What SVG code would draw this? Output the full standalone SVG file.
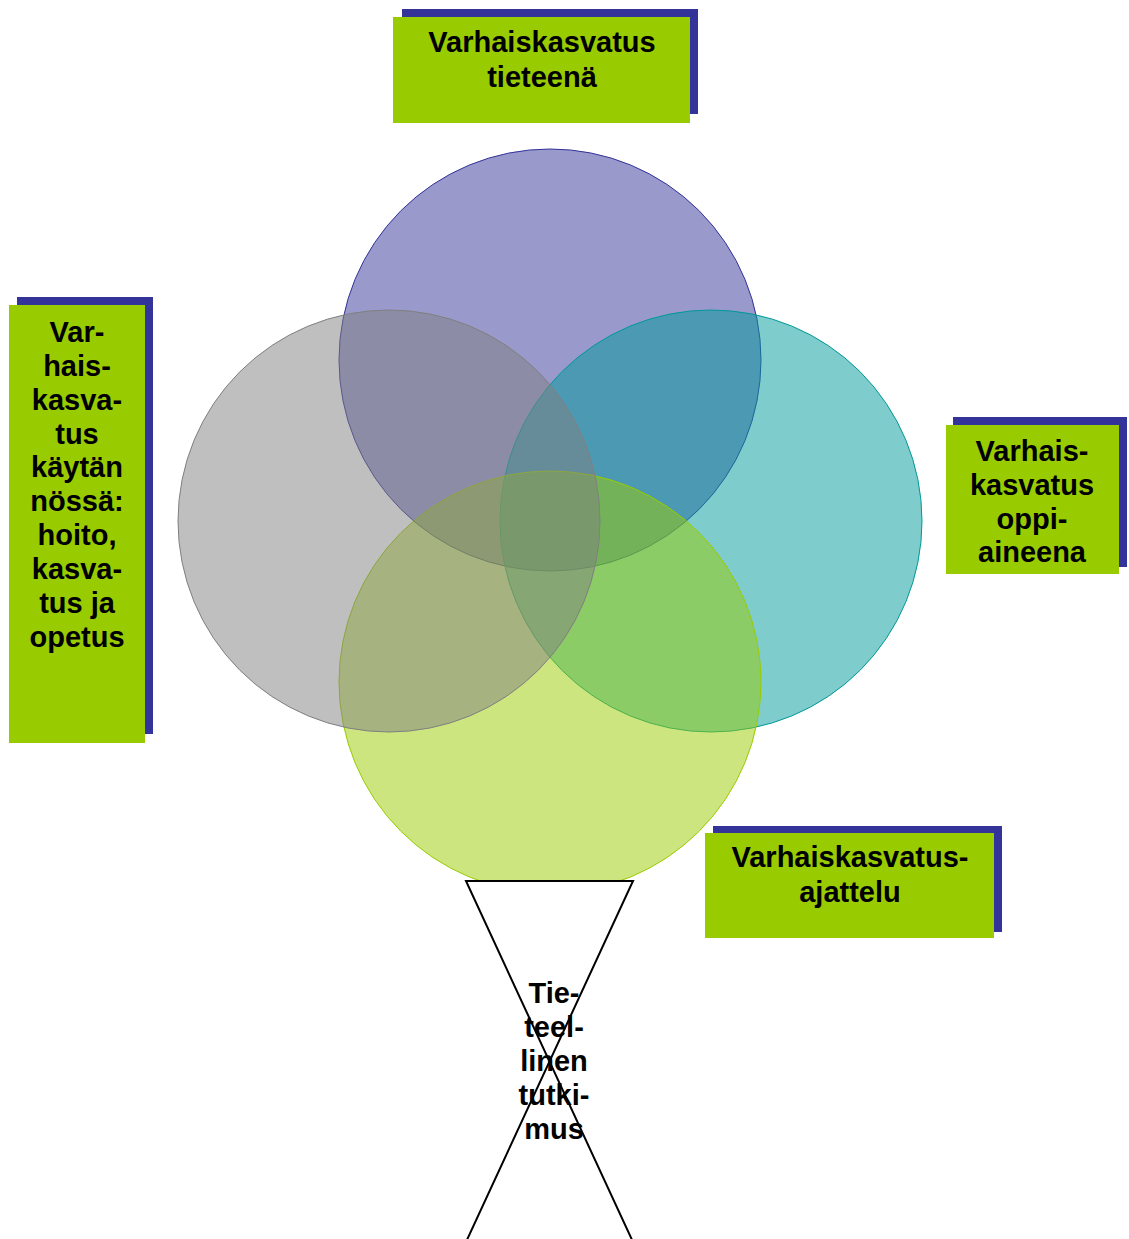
<svg xmlns="http://www.w3.org/2000/svg" width="1129" height="1239" viewBox="0 0 1129 1239">
<style>
.shadow{fill:#333399}
.box{fill:#99cc00}
.t{font-family:"Liberation Sans",Arial,sans-serif;font-weight:bold;font-size:29px;fill:#000;text-anchor:middle}
.c{stroke-width:1}
</style>
<rect width="1129" height="1239" fill="#fff"/>
<g id="venn">
<circle id="c-top" class="c" cx="550" cy="360" r="211" fill="#333399" fill-opacity="0.5" stroke="#333399"/>
<circle id="c-right" class="c" cx="711" cy="521" r="211" fill="#009999" fill-opacity="0.5" stroke="#009999"/>
<circle id="c-bottom" class="c" cx="550" cy="682" r="211" fill="#99cc00" fill-opacity="0.5" stroke="#99cc00"/>
<circle id="c-left" class="c" cx="389" cy="521" r="211" fill="#808080" fill-opacity="0.5" stroke="#808080"/>
</g>
<g id="connectors"></g>
<g id="n-top">
<rect class="shadow" x="402" y="9" width="296" height="105"/>
<rect class="box" x="393" y="17" width="297" height="106"/>
<text class="t" x="542" y="52">Varhaiskasvatus</text>
<text class="t" x="542" y="87">tieteenä</text>
</g>
<g id="n-left">
<rect class="shadow" x="17" y="297" width="136" height="437"/>
<rect class="box" x="9" y="305" width="136" height="438"/>
<text class="t" x="77" y="342">Var-</text>
<text class="t" x="77" y="376">hais-</text>
<text class="t" x="77" y="410">kasva-</text>
<text class="t" x="77" y="444">tus</text>
<text class="t" x="77" y="477">käytän</text>
<text class="t" x="77" y="511">nössä:</text>
<text class="t" x="77" y="545">hoito,</text>
<text class="t" x="77" y="579">kasva-</text>
<text class="t" x="77" y="613">tus ja</text>
<text class="t" x="77" y="647">opetus</text>
</g>
<g id="n-right">
<rect class="shadow" x="953" y="417" width="174" height="150"/>
<rect class="box" x="946" y="425" width="173" height="149"/>
<text class="t" x="1032" y="461">Varhais-</text>
<text class="t" x="1032" y="495">kasvatus</text>
<text class="t" x="1032" y="529">oppi-</text>
<text class="t" x="1032" y="562">aineena</text>
</g>
<g id="n-bottom">
<rect class="shadow" x="713" y="826" width="289" height="106"/>
<rect class="box" x="705" y="833" width="289" height="105"/>
<text class="t" x="850" y="867">Varhaiskasvatus-</text>
<text class="t" x="850" y="902">ajattelu</text>
</g>
<g id="n-hourglass">
<polygon points="466,881 633,881 466,1242 633,1242" fill="#fff" stroke="#000" stroke-width="2" stroke-linejoin="miter"/>
<text class="t" x="554" y="1003">Tie-</text>
<text class="t" x="554" y="1037">teel-</text>
<text class="t" x="554" y="1071">linen</text>
<text class="t" x="554" y="1105">tutki-</text>
<text class="t" x="554" y="1139">mus</text>
</g>
</svg>
